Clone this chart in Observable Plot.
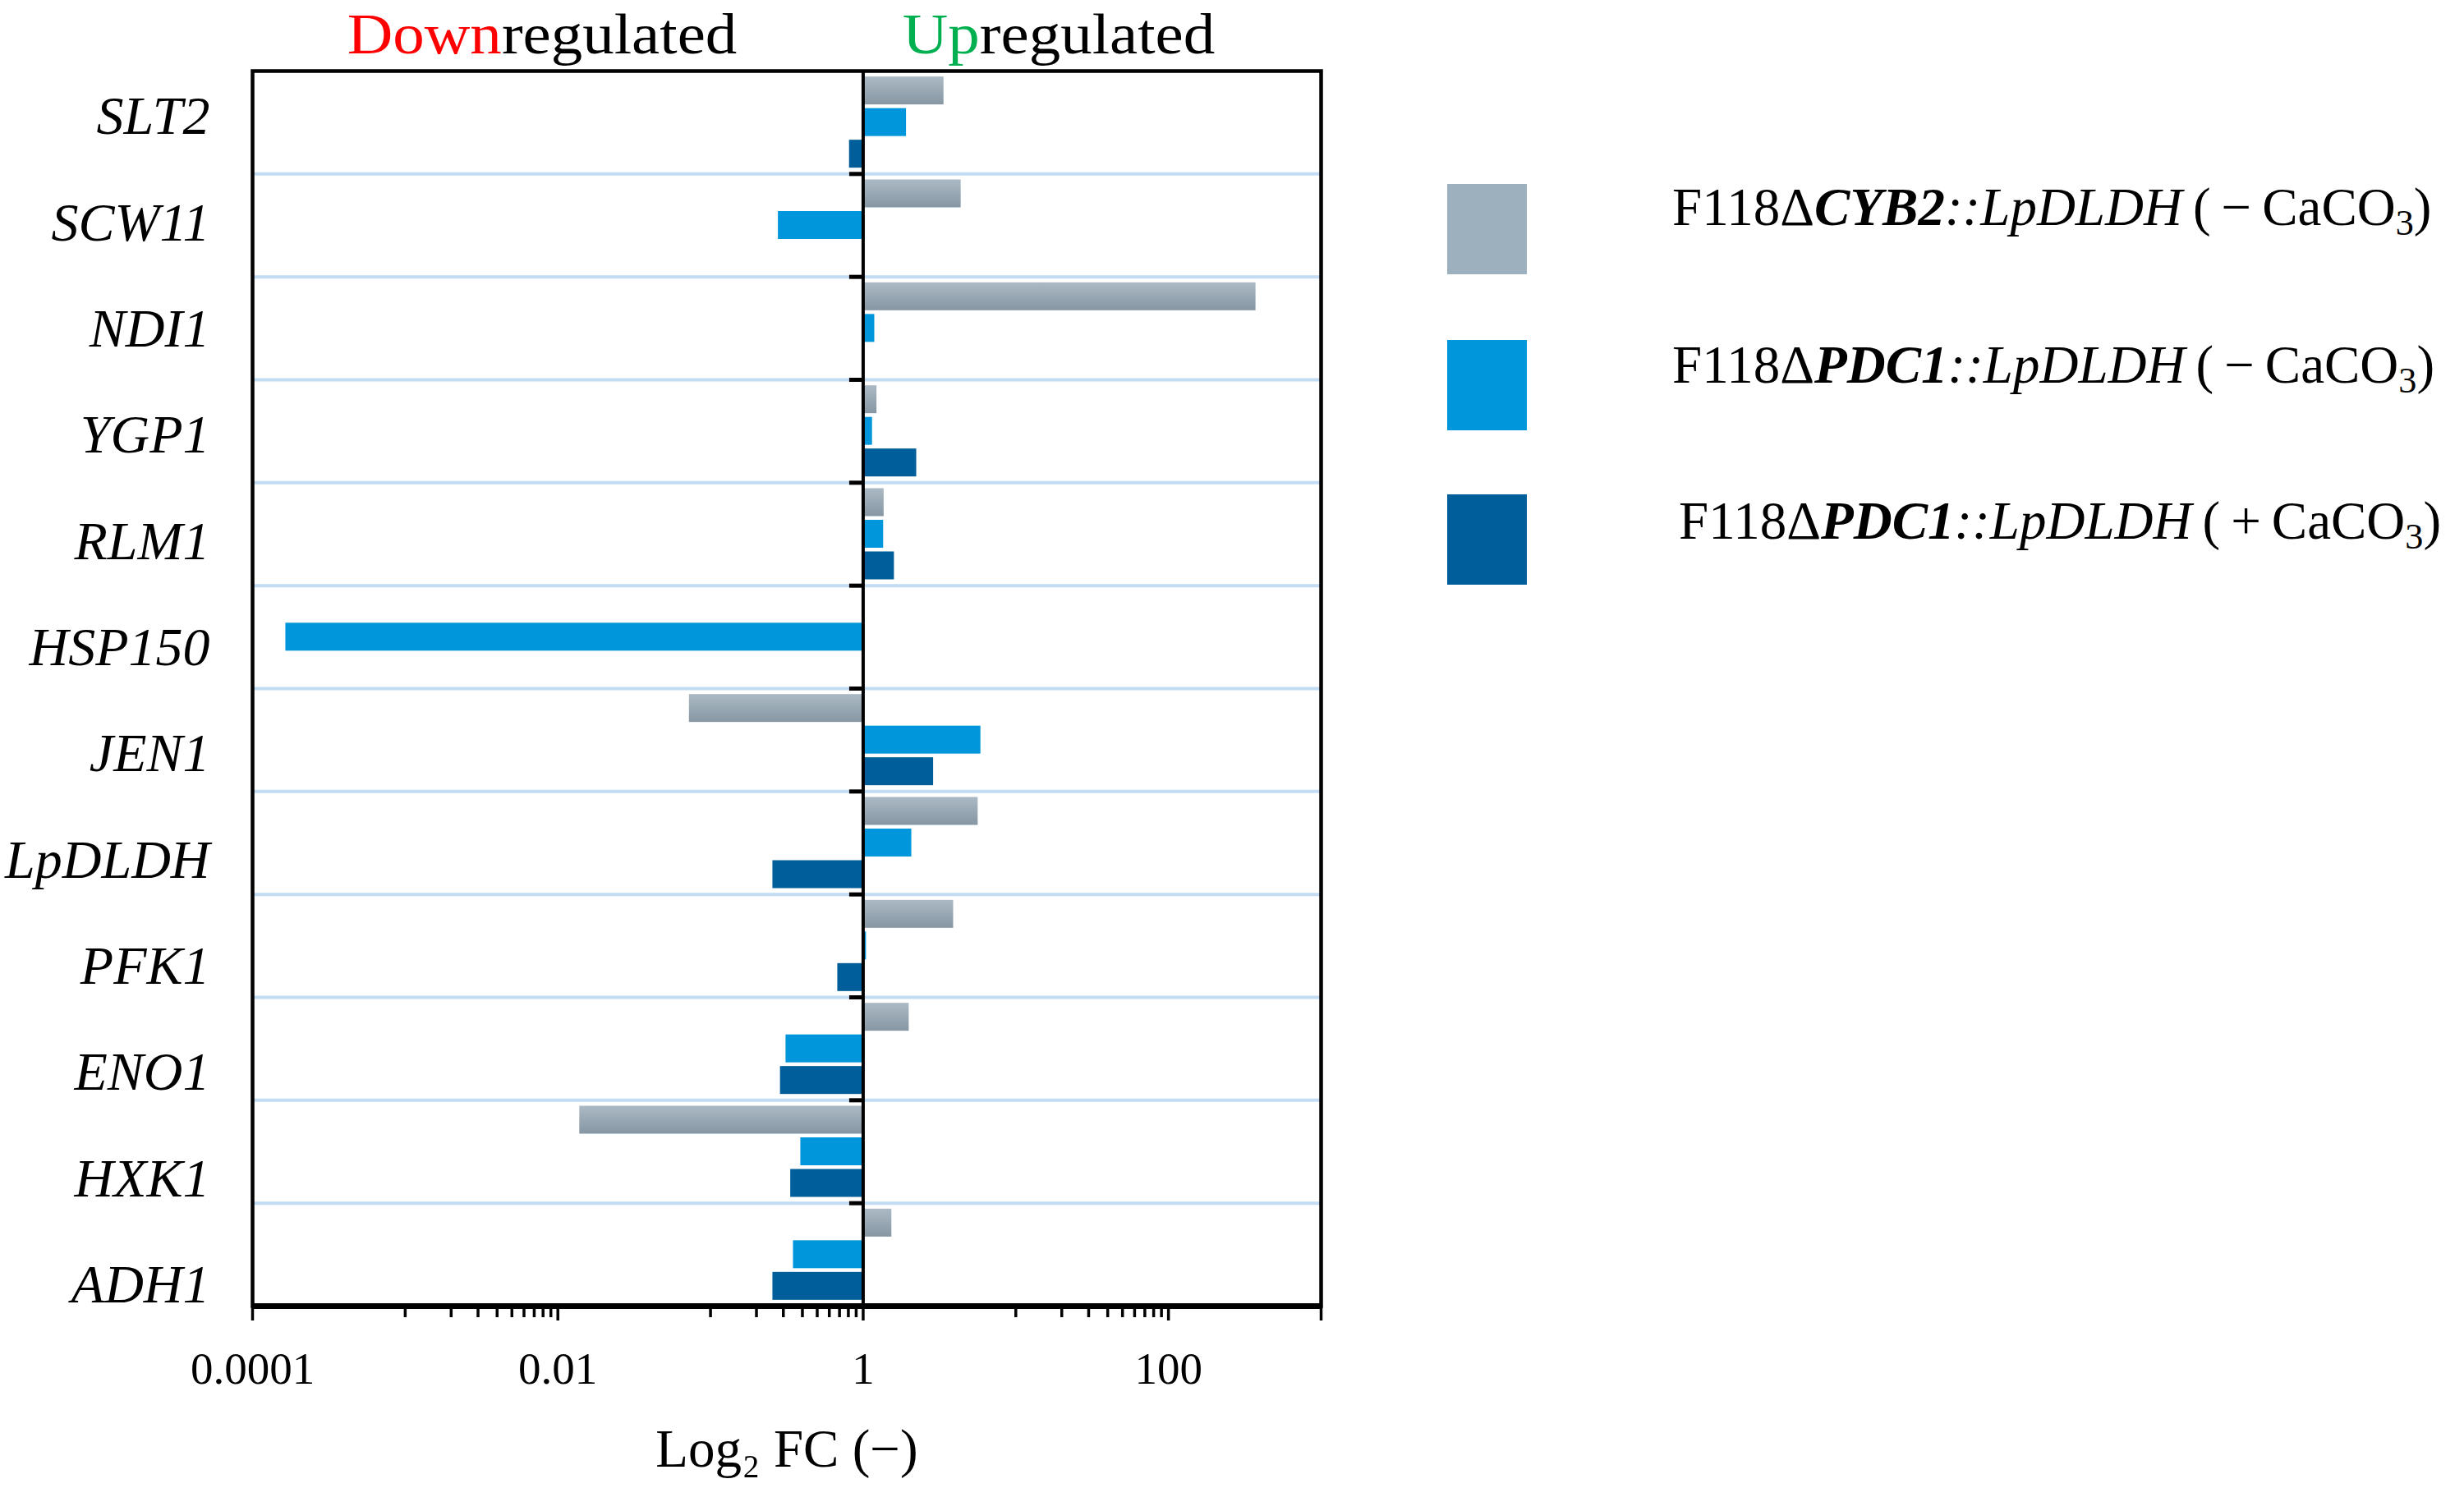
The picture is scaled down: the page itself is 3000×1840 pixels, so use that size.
<!DOCTYPE html>
<html>
<head>
<meta charset="utf-8">
<script src="https://cdn.jsdelivr.net/npm/d3@7"></script>
<script src="https://cdn.jsdelivr.net/npm/@observablehq/plot@0.6"></script>
<style>
  html, body { margin: 0; padding: 0; background: #fff; }
  #wrap { position: relative; width: 3000px; height: 1840px; background: #fff; font-family: 'Liberation Serif', 'Times New Roman', serif; color: #000; }
  #title { position: relative; height: 80px; }
  .ttl { position: absolute; top: 0px; font-size: 70px; line-height: 1.2; white-space: nowrap; transform: translateX(-50%) scaleX(1.1); transform-origin: 50% 50%; }
  #chart { position: absolute; left: 0; top: 80px; }
  .sw { position: absolute; width: 97px; height: 110px; }
  .lt { position: absolute; font-size: 65px; line-height: 1; white-space: nowrap; }
  .sub { font-size: 0.68em; position: relative; top: 0.28em; }
</style>
</head>
<body>
<div id="wrap">
  <div id="title">
    <span class="ttl" style="left:660px"><span style="color:#ff0000">Down</span>regulated</span>
    <span class="ttl" style="left:1289px"><span style="color:#00b050">Up</span>regulated</span>
  </div>
  <div id="chart"></div>
  <div id="legend"></div>
</div>
<script>
// ---- data ----
const genes = ["SLT2", "SCW11", "NDI1", "YGP1", "RLM1", "HSP150", "JEN1", "LpDLDH", "PFK1", "ENO1", "HXK1", "ADH1"];
// F118ΔCYB2::LpDLDH (−CaCO3)
const cyb2Minus = [3.38, 4.38, 374, 1.23, 1.37, null, 0.0727, 5.66, 3.91, 2.00, 0.0139, 1.54];
// F118ΔPDC1::LpDLDH (−CaCO3)
const pdc1Minus = [1.92, 0.278, 1.19, 1.15, 1.36, 0.000165, 5.90, 2.08, 1.05, 0.312, 0.390, 0.349];
// F118ΔPDC1::LpDLDH (+CaCO3)
const pdc1Plus = [0.813, null, null, 2.24, 1.60, null, 2.89, 0.256, 0.681, 0.287, 0.335, 0.256];
const majorTicks = [0.0001, 0.01, 1, 100, 1000];
const majorTickLabels = ["0.0001", "0.01", "1", "100", ""];
const minorDecades = [0.001, 0.1, 10];
const xLabel = "Log\u2082 FC (\u2212)";
const legendItems = [
  {html: 'F118Δ<b><i>CYB2</i></b><i>::LpDLDH</i>\u2009(\u2009\u2212\u2009CaCO<span class="sub">3</span>)'},
  {html: 'F118Δ<b><i>PDC1</i></b><i>::LpDLDH</i>\u2009(\u2009\u2212\u2009CaCO<span class="sub">3</span>)'},
  {html: 'F118Δ<b><i>PDC1</i></b><i>::LpDLDH</i>\u2009(\u2009+\u2009CaCO<span class="sub">3</span>)'}
];
const colors = ["#9db0bd", "#0096db", "#005e9a"];

// ---- layout ----
const W = 1700, H = 1760, mt = 6, mb = 250, ml = 307, mr = 92;
const step = (H - mt - mb) / genes.length;
const barH = 34, gap = 4.5;
const pad = (step - 3 * barH - 2 * gap) / 2;
const inset = (k) => ({insetTop: pad + k * (barH + gap), insetBottom: step - pad - k * (barH + gap) - barH});
const rows = (vals) => genes.map((g, i) => ({gene: g, value: vals[i]})).filter((d) => d.value != null);
const minorTicks = [];
for (const base of minorDecades) for (let k = 1; k <= 9; k++) minorTicks.push(base * k);

const leftTick = {draw(ctx) { ctx.moveTo(-17, 0); ctx.lineTo(0, 0); }};

// the gene names in the original sit on a slightly wider pitch than the bands
const labelOffsetBands = -0.056, labelSpread = 0.032;
const labelRender = (index, scales, values, dimensions, context, next) => {
  const y = values.y ? Array.from(values.y, (v) => v + step * labelOffsetBands + labelSpread * (v - mt)) : values.y;
  return next(index, scales, {...values, y}, dimensions, context);
};

const chart = Plot.plot({
  width: W, height: H,
  marginTop: mt, marginBottom: mb, marginLeft: ml, marginRight: mr,
  style: {fontFamily: "'Liberation Serif', 'Times New Roman', serif", background: "white", color: "black", overflow: "visible"},
  x: {type: "log", domain: [1e-4, 1e3]},
  y: {type: "band", domain: genes, padding: 0, round: false},
  marks: [
    Plot.ruleY(genes.slice(1), {dy: -step / 2, stroke: "#c2dcf3", strokeWidth: 4}),
    Plot.barX(rows(cyb2Minus), {y: "gene", x1: 1, x2: "value", fill: "url(#grayGrad)", ...inset(0)}),
    Plot.barX(rows(pdc1Minus), {y: "gene", x1: 1, x2: "value", fill: colors[1], ...inset(1)}),
    Plot.barX(rows(pdc1Plus), {y: "gene", x1: 1, x2: "value", fill: colors[2], ...inset(2)}),
    Plot.ruleX([1], {stroke: "black", strokeWidth: 4}),
    Plot.dot(genes.slice(1), {x: 1, y: (d) => d, dy: -step / 2, symbol: leftTick, stroke: "black", strokeWidth: 5, fill: "none"}),
    Plot.frame({stroke: "black", strokeWidth: 4.5}),
    Plot.ruleY([genes[genes.length - 1]], {dy: step / 2, stroke: "black", strokeWidth: 7}),
    Plot.axisX({ticks: minorTicks, tickSize: 14, tickFormat: () => "", strokeWidth: 3.5, label: null}),
    Plot.axisX({ticks: majorTicks, tickSize: 18, tickPadding: 37, tickFormat: (d) => majorTickLabels[majorTicks.indexOf(d)], fontSize: 55, strokeWidth: 3.5, label: null}),
    Plot.axisY({tickSize: 0, tickPadding: 52, fontSize: 66, fontStyle: "italic", label: null, render: labelRender}),
    Plot.text([xLabel], {frameAnchor: "bottom", dy: 195, fontSize: 65})
  ]
});

// gradient for the grey series
const svgNS = "http://www.w3.org/2000/svg";
const defs = document.createElementNS(svgNS, "defs");
defs.innerHTML = '<linearGradient id="grayGrad" x1="0" y1="0" x2="0" y2="1">' +
  '<stop offset="0" stop-color="#abbac4"/><stop offset="1" stop-color="#8696a3"/></linearGradient>';
chart.insertBefore(defs, chart.firstChild);
document.getElementById("chart").appendChild(chart);

// legend
const legend = document.getElementById("legend");
const swTops = [224, 414, 602];
const txtTops = [220, 412, 602];
const txtLefts = [2036, 2036, 2044];
legendItems.forEach((item, i) => {
  const sw = document.createElement("div");
  sw.className = "sw";
  sw.style.left = "1762px";
  sw.style.top = swTops[i] + "px";
  sw.style.background = colors[i];
  legend.appendChild(sw);
  const t = document.createElement("div");
  t.className = "lt";
  t.style.left = txtLefts[i] + "px";
  t.style.top = txtTops[i] + "px";
  t.innerHTML = item.html;
  legend.appendChild(t);
});
</script>
</body>
</html>
